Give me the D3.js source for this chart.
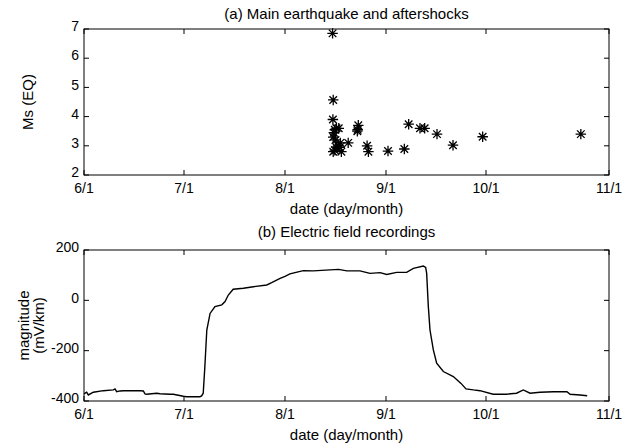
<!DOCTYPE html>
<html><head><meta charset="utf-8">
<script src="https://cdn.jsdelivr.net/npm/d3@7"></script>
<style>
body{margin:0;background:#fff;}
text{font-family:"Liberation Sans",Arial,sans-serif;fill:#000;}
</style></head>
<body><svg id="c" width="622" height="447"></svg>
<script>
// ---- data ----
const tickLabels = ["6/1","7/1","8/1","9/1","10/1","11/1"];
const tickDays = [0,30,61,92,122,153]; // days since 6/1
const msTicks = [2,3,4,5,6,7];
const efTicks = [-400,-200,0,200];
// earthquakes: day since 6/1, magnitude Ms
const eqDays = [75.6,75.8,75.7,76.0,75.8,76.3,76.8,77.5,76.5,75.8,76.3,76.8,77.3,77.8,78.0,78.3,80.4,83.5,83.3,83.2,86.2,86.6,92.6,97.5,98.8,102.2,103.6,107.3,112.1,121.0,145.9];
const eqMs   = [6.85,4.57,3.9,3.45,3.3,3.55,3.6,3.6,3.2,2.8,2.85,2.95,3.0,2.95,3.1,2.8,3.1,3.7,3.55,3.5,3.0,2.8,2.82,2.89,3.74,3.6,3.6,3.4,3.02,3.31,3.4];
// electric field: day since 6/1, mV/km
const efDays = [0,0.8,1.3,2.8,5.8,8.8,9.3,9.8,10.8,11.8,16.8,17.8,18.3,18.8,21.8,22.8,25.8,26.8,29.8,30.8,34.9,35.4,35.9,36.4,37.0,38.0,39.5,41.6,42.6,43.6,45.1,48.2,51.3,55.4,56.9,59.5,61,62.5,66.6,69.7,74.8,77.4,80,84,87.1,90.2,92.2,95.2,98.2,100.2,103.2,103.9,104.2,104.7,105.2,106.2,107.2,109.2,112.2,114.5,116,118.2,120.2,123.8,127.2,129.7,131.4,133.1,135.6,139,142.4,143.2,145.7,147.5];
const efVal  = [-372,-365,-376,-365,-359,-356,-352,-363,-360,-359,-359,-360,-372,-373,-369,-371,-373,-373,-381,-383,-383,-380,-369,-264,-118,-52,-25,-18,-5,21,44,48,54,61,70,87,95,105,118,117,121,123,117,117,107,110,103,111,111,127,136,131,107,-25,-118,-197,-250,-283,-303,-330,-352,-356,-359,-373,-373,-369,-356,-369,-365,-363,-363,-373,-376,-379];

// ---- layout ----
const L = 84, R = 609;
const TICK_FS = 14, LAB_FS = 15;
const svg = d3.select("#c");
const x = d3.scaleLinear().domain(tickDays)
  .range(tickDays.map((d,i)=>L + [0,100,201,302,402,525][i]));

function axesBox(g, y, yTicks, top, bot){
  const tk = 5;
  g.append("rect").attr("x",L).attr("y",top).attr("width",R-L).attr("height",bot-top)
    .attr("fill","none").attr("stroke","#000").attr("stroke-width",1);
  tickDays.forEach((d,i)=>{
    const px = x(d);
    g.append("line").attr("x1",px).attr("x2",px).attr("y1",bot).attr("y2",bot-tk).attr("stroke","#000");
    g.append("line").attr("x1",px).attr("x2",px).attr("y1",top).attr("y2",top+tk).attr("stroke","#000");
    g.append("text").attr("x",px).attr("y",bot+14.5).attr("text-anchor","middle")
      .attr("font-size",TICK_FS).attr("dominant-baseline","middle").text(tickLabels[i]);
  });
  yTicks.forEach(v=>{
    const py = y(v);
    g.append("line").attr("x1",L).attr("x2",L+tk).attr("y1",py).attr("y2",py).attr("stroke","#000");
    g.append("line").attr("x1",R).attr("x2",R-tk).attr("y1",py).attr("y2",py).attr("stroke","#000");
    g.append("text").attr("x",L-5).attr("y",py-1.5).attr("text-anchor","end")
      .attr("font-size",TICK_FS).attr("dominant-baseline","middle").text(v);
  });
}

// ---- panel (a) ----
const ta = 29, ba = 175;
const ya = d3.scaleLinear().domain([2,7]).range([ba,ta]);
const ga = svg.append("g");
axesBox(ga, ya, msTicks, ta, ba);
ga.append("text").attr("x",(L+R)/2).attr("y",15).attr("text-anchor","middle")
  .attr("font-size",LAB_FS).attr("dominant-baseline","middle").text("(a) Main earthquake and aftershocks");
ga.append("text").attr("x",(L+R)/2).attr("y",210).attr("text-anchor","middle")
  .attr("font-size",LAB_FS).attr("dominant-baseline","middle").text("date (day/month)");
ga.append("text").attr("transform",`translate(29,${(ta+ba)/2}) rotate(-90)`).attr("text-anchor","middle")
  .attr("font-size",LAB_FS).attr("dominant-baseline","middle").text("Ms (EQ)");

const asterisk = {draw(ctx,size){
  const r = Math.sqrt(size)/2, d = r*0.72;
  ctx.moveTo(-r,0);ctx.lineTo(r,0);
  ctx.moveTo(0,-r);ctx.lineTo(0,r);
  ctx.moveTo(-d,-d);ctx.lineTo(d,d);
  ctx.moveTo(-d,d);ctx.lineTo(d,-d);
}};
const sym = d3.symbol().type(asterisk).size(110);
ga.selectAll("path.eq").data(eqDays.map((d,i)=>[d,eqMs[i]])).join("path")
  .attr("class","eq").attr("d",sym)
  .attr("transform",d=>`translate(${x(d[0])},${ya(d[1])})`)
  .attr("fill","none").attr("stroke","#000").attr("stroke-width",1.3);

// ---- panel (b) ----
const tb = 250, bb = 401;
const yb = d3.scaleLinear().domain([-400,200]).range([bb,tb]);
const gb = svg.append("g");
axesBox(gb, yb, efTicks, tb, bb);
gb.append("text").attr("x",(L+R)/2).attr("y",233).attr("text-anchor","middle")
  .attr("font-size",LAB_FS).attr("dominant-baseline","middle").text("(b) Electric field recordings");
gb.append("text").attr("x",(L+R)/2).attr("y",436).attr("text-anchor","middle")
  .attr("font-size",LAB_FS).attr("dominant-baseline","middle").text("date (day/month)");
const yl = gb.append("text").attr("transform",`translate(33,${(tb+bb)/2}) rotate(-90)`).attr("text-anchor","middle")
  .attr("font-size",LAB_FS);
yl.append("tspan").attr("x",0).attr("dy","-0.25em").text("magnitude");
yl.append("tspan").attr("x",0).attr("dy","1.0em").text("(mV/km)");

const line = d3.line().x(d=>x(d[0])).y(d=>yb(d[1]));
gb.append("path").datum(efDays.map((d,i)=>[d,efVal[i]]))
  .attr("d",line).attr("fill","none").attr("stroke","#000").attr("stroke-width",1.4);
</script></body></html>
